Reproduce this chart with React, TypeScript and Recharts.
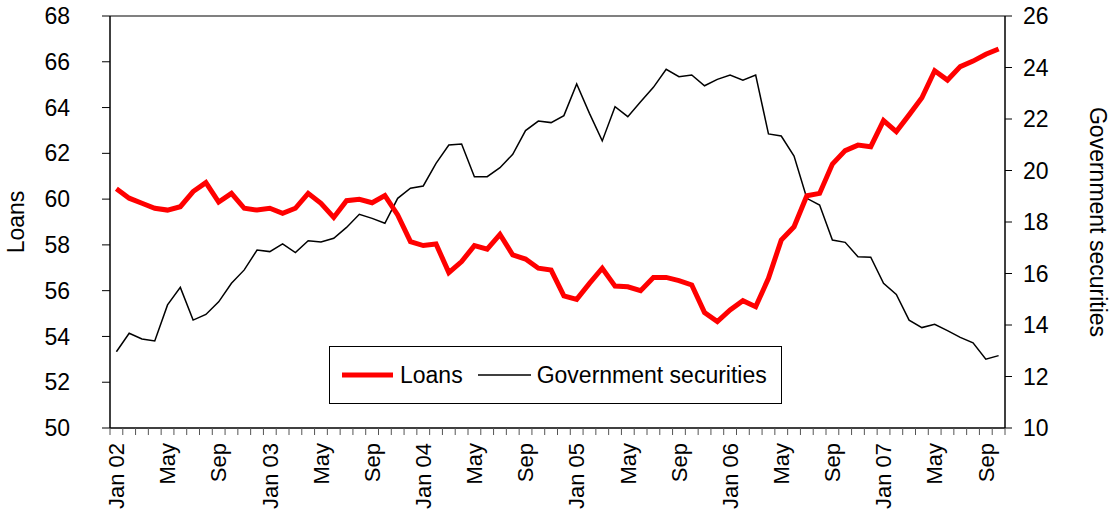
import { ComposedChart, Line, XAxis, YAxis, ReferenceLine, Legend } from "recharts";

const YEARS = ["02", "03", "04", "05", "06", "07"];
const MONTHS = ["Jan", "Feb", "Mar", "Apr", "May", "Jun", "Jul", "Aug", "Sep", "Oct", "Nov", "Dec"];

// Jan 02 .. Oct 07, monthly
const CATEGORIES = YEARS.flatMap((y) => MONTHS.map((m) => `${m} ${y}`)).slice(0, 70);

// % of total assets, left axis
const LOANS = [
  60.45, 60.04, 59.82, 59.6, 59.52, 59.67, 60.33, 60.72, 59.87, 60.25,
  59.6, 59.52, 59.6, 59.38, 59.6, 60.25, 59.82, 59.2, 59.93, 59.99,
  59.84, 60.15, 59.31, 58.14, 57.97, 58.04, 56.79, 57.27, 57.97, 57.81,
  58.46, 57.56, 57.38, 56.98, 56.9, 55.77, 55.62, 56.32, 56.98, 56.2,
  56.17, 56.0, 56.58, 56.58, 56.44, 56.25, 55.04, 54.65, 55.16, 55.56,
  55.3, 56.54, 58.21, 58.79, 60.15, 60.25, 61.53, 62.12, 62.36, 62.29,
  63.43, 62.95, 63.68, 64.43, 65.61, 65.2, 65.79, 66.03, 66.33, 66.56,
];

// right axis
const GOV_SECURITIES = [
  12.96, 13.68, 13.46, 13.38, 14.78, 15.46, 14.19, 14.41, 14.9, 15.62,
  16.14, 16.91, 16.85, 17.15, 16.81, 17.27, 17.22, 17.37, 17.79, 18.3,
  18.14, 17.95, 18.92, 19.31, 19.4, 20.28, 20.99, 21.03, 19.76, 19.76,
  20.11, 20.63, 21.55, 21.92, 21.86, 22.13, 23.36, 22.22, 21.15, 22.48,
  22.09, 22.67, 23.23, 23.93, 23.64, 23.71, 23.29, 23.54, 23.71, 23.51,
  23.71, 21.42, 21.34, 20.56, 18.92, 18.66, 17.3, 17.21, 16.65, 16.63,
  15.62, 15.19, 14.19, 13.9, 14.03, 13.78, 13.52, 13.31, 12.67, 12.81,
];

const LEFT_TICKS = [50, 52, 54, 56, 58, 60, 62, 64, 66, 68];
const RIGHT_TICKS = [10, 12, 14, 16, 18, 20, 22, 24, 26];

const FONT = "'Liberation Sans', Arial, sans-serif";
const W = 1112;
const H = 518;
const LEFT_W = 110;
const RIGHT_W = 107;
const BAND = (W - LEFT_W - RIGHT_W) / CATEGORIES.length;

const data = CATEGORIES.map((c, i) => ({
  month: c,
  loans: LOANS[i],
  gov: GOV_SECURITIES[i],
}));

function XTick(props: any) {
  const { x, y, payload, index } = props;
  const [m] = String(payload.value).split(" ");
  const label = m === "Jan" ? payload.value : m;
  const left = x - BAND / 2;
  const ty = y + 15;
  return (
    <g>
      <line x1={left} x2={left} y1={y} y2={y + 7} stroke="#555" strokeWidth={1} />
      {index === CATEGORIES.length - 1 && (
        <line x1={x + BAND / 2} x2={x + BAND / 2} y1={y} y2={y + 7} stroke="#555" strokeWidth={1} />
      )}
      {index % 4 === 0 && (
        <text
          x={x}
          y={ty}
          transform={`rotate(-90, ${x}, ${ty})`}
          textAnchor="end"
          dy="0.35em"
          fontSize={22}
          fontFamily={FONT}
          fill="#000"
        >
          {label}
        </text>
      )}
    </g>
  );
}

function LegendBox() {
  return (
    <div
      style={{
        boxSizing: "border-box",
        width: 453,
        height: 58,
        border: "1px solid #000",
        background: "#fff",
        display: "flex",
        alignItems: "center",
        fontFamily: FONT,
        fontSize: 23,
        color: "#000",
      }}
    >
      <svg width={51} height={10} style={{ marginLeft: 12 }}>
        <line x1={0} x2={51} y1={5} y2={5} stroke="#ff0000" strokeWidth={5} />
      </svg>
      <span style={{ marginLeft: 7 }}>Loans</span>
      <svg width={53} height={10} style={{ marginLeft: 15 }}>
        <line x1={0} x2={53} y1={5} y2={5} stroke="#000" strokeWidth={1.5} />
      </svg>
      <span style={{ marginLeft: 6 }}>Government securities</span>
    </div>
  );
}

export default function App() {
  return (
    <div style={{ position: "absolute", left: 0, top: 0, width: W, height: H, background: "#fff" }}>
      <ComposedChart width={W} height={H} data={data} margin={{ top: 16, right: 0, bottom: 0, left: 0 }}>
        <XAxis
          dataKey="month"
          scale="band"
          interval={0}
          height={90}
          tickLine={false}
          tickSize={0}
          tickMargin={0}
          axisLine={{ stroke: "#000", strokeWidth: 1.5 }}
          tick={<XTick />}
        />
        <YAxis
          yAxisId="left"
          domain={[50, 68]}
          ticks={LEFT_TICKS}
          width={LEFT_W}
          tickSize={8}
          tickMargin={32}
          axisLine={{ stroke: "#000", strokeWidth: 1.5 }}
          tickLine={{ stroke: "#000" }}
          tick={{ fontSize: 23, fill: "#000", fontFamily: FONT }}
          label={{
            value: "Loans",
            angle: -90,
            position: "insideLeft",
            offset: 16,
            style: { textAnchor: "middle", fontSize: 23, fill: "#000", fontFamily: FONT },
          }}
        />
        <YAxis
          yAxisId="right"
          orientation="right"
          domain={[10, 26]}
          ticks={RIGHT_TICKS}
          width={RIGHT_W}
          tickSize={7}
          tickMargin={11}
          axisLine={{ stroke: "#000", strokeWidth: 1.5 }}
          tickLine={{ stroke: "#000" }}
          tick={{ fontSize: 23, fill: "#000", fontFamily: FONT, textAnchor: "start" }}
          label={{
            value: "Government securities",
            angle: 90,
            position: "insideRight",
            offset: 14,
            style: { textAnchor: "middle", fontSize: 23, fill: "#000", fontFamily: FONT },
          }}
        />
        <ReferenceLine yAxisId="left" y={68} stroke="#808080" strokeWidth={2} />
        <Line
          yAxisId="right"
          type="linear"
          dataKey="gov"
          name="Government securities"
          stroke="#000"
          strokeWidth={1.5}
          dot={false}
          isAnimationActive={false}
        />
        <Line
          yAxisId="left"
          type="linear"
          dataKey="loans"
          name="Loans"
          stroke="#ff0000"
          strokeWidth={5}
          dot={false}
          isAnimationActive={false}
        />
        <Legend
          layout="horizontal"
          verticalAlign="middle"
          align="center"
          content={<LegendBox />}
          wrapperStyle={{ left: 329, top: 346, width: 453, height: 58 }}
        />
      </ComposedChart>
    </div>
  );
}
